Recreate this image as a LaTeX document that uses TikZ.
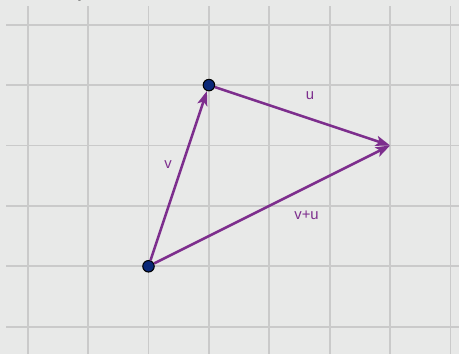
\documentclass[tikz,border=0pt]{standalone}
\usepackage{fontspec}
\setmainfont{Liberation Sans}
\definecolor{bggray}{RGB}{232,233,232}
\definecolor{gridgray}{RGB}{202,202,202}
\definecolor{vecpurple}{RGB}{125,46,141}
\definecolor{ptblue}{RGB}{10,40,120}
\usetikzlibrary{arrows.meta}

\begin{document}
\begin{tikzpicture}[
  pt/.style={circle, draw=black, fill=ptblue, inner sep=0pt, minimum size=0.19cm, line width=0.5pt},
  vec/.style={-{Stealth[length=6.8pt, width=4.8pt, inset=1.6pt]}, draw=vecpurple, line width=1.2pt},
  lbl/.style={font=\fontsize{7}{8}\selectfont, text=vecpurple, inner sep=0pt, anchor=base},
  gridline/.style={draw=gridgray, line width=0.9pt}
]
  \useasboundingbox (-2.459,-1.452) rectangle (5.141,4.409);
  \clip (-2.459,-1.452) rectangle (5.141,4.409);
  \fill[bggray] (-2.459,-1.452) rectangle (5.141,4.409);
  \foreach \x in {-2,...,5} \draw[gridline] (\x,-1.452) -- (\x,4.31);
  \foreach \y in {-1,...,4} \draw[gridline] (-2.359,\y) -- (5.141,\y);
  \node[font=\fontsize{10}{12}\selectfont, anchor=base, inner sep=0pt] (ylabel) at (-1.084,4.47) {y};

  \node[pt] (A) at (0,0) {};
  \node[pt] (B) at (1,3) {};
  \coordinate (C) at (4,2);

  \draw[vec] (A) -- (B);
  \draw[vec] (B) -- (C);
  \draw[vec] (A) -- (C);

  \node[lbl] (vlbl) at (0.323,1.611) {v};
  \node[lbl] (ulbl) at (2.674,2.765) {u};
  \node[lbl] (sumlbl) at (2.616,0.767) {v+u};
\end{tikzpicture}
\end{document}
